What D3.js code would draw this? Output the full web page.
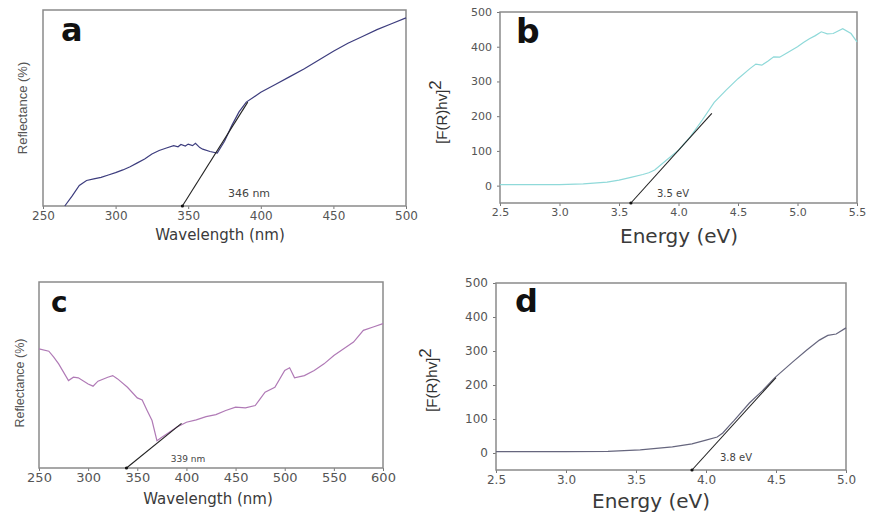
<!DOCTYPE html>
<html>
<head>
<meta charset="utf-8">
<script src="https://cdn.jsdelivr.net/npm/d3@7"></script>
<style>
  body { margin: 0; background: #fff; }
  svg { display: block; }
  .tick text { font-family: "DejaVu Sans", sans-serif; fill: #555; }
  .tick line { stroke: #777; }
</style>
</head>
<body>
<div id="chart"></div>
<script>
// Data: panel a (reflectance vs wavelength)
const wavelengthA = [265, 270, 275, 280, 285, 290, 295, 300, 305, 310, 315, 320, 325, 330, 335, 340, 343, 345, 348, 350, 353, 355, 358, 360, 365, 370, 375, 380, 385, 390, 395, 400, 410, 420, 430, 440, 450, 460, 470, 480, 490, 500];
const reflectanceA = [0, 5, 10.5, 13, 13.8, 14.6, 15.8, 17, 18.4, 20, 22, 24, 26.5, 28.3, 29.6, 30.8, 30.2, 31.4, 30.6, 31.6, 30.8, 32, 29.8, 29, 27.8, 27, 33, 41, 48, 53, 55.5, 58, 62, 66, 70, 74.5, 79, 83, 86.5, 90, 93, 96];
const tangentAx = [346, 391];
const tangentAy = [0, 53];

// panel b ([F(R)hv]^2 vs energy)
const energyB = [2.5, 2.8, 3.0, 3.2, 3.4, 3.5, 3.6, 3.7, 3.75, 3.8, 3.9, 4.0, 4.1, 4.2, 4.3, 4.4, 4.5, 4.6, 4.65, 4.7, 4.75, 4.8, 4.85, 4.9, 4.95, 5.0, 5.05, 5.1, 5.15, 5.2, 5.25, 5.3, 5.38, 5.45, 5.5];
const fB = [3, 3, 3, 5, 10, 16, 24, 32, 37, 45, 74, 102, 141, 189, 240, 275, 308, 337, 350, 347, 358, 371, 370, 380, 390, 400, 412, 423, 432, 443, 437, 438, 452, 438, 414];
const tangentBx = [3.6, 4.28];
const tangentBy = [-50, 208];

// panel c (reflectance vs wavelength)
const wavelengthC = [250, 260, 265, 270, 280, 285, 290, 300, 305, 310, 320, 325, 330, 340, 350, 355, 360, 365, 370, 375, 380, 390, 400, 410, 420, 430, 440, 450, 460, 470, 475, 480, 490, 500, 505, 510, 520, 530, 540, 550, 560, 570, 580, 590, 600];
const reflectanceC = [64, 62.8, 59.6, 56, 47, 48.8, 48.5, 45.2, 44, 46.7, 48.8, 49.7, 47.9, 43.4, 37.7, 36.6, 30.9, 25.5, 14.7, 16.5, 18.3, 21.9, 24.6, 25.9, 27.6, 28.7, 30.9, 32.7, 32.3, 33.6, 37.2, 40.8, 43.4, 52.4, 53.9, 48.5, 49.7, 52.4, 56, 60.5, 64.1, 67.7, 74, 75.8, 77.6];
const tangentCx = [339, 395];
const tangentCy = [0, 24];

// panel d ([F(R)hv]^2 vs energy)
const energyD = [2.5, 3.0, 3.3, 3.53, 3.76, 3.9, 4.0, 4.08, 4.12, 4.17, 4.2, 4.31, 4.4, 4.49, 4.62, 4.72, 4.81, 4.87, 4.93, 5.0];
const fD = [4, 4, 5, 9, 18, 27, 38, 47, 59, 82, 95, 147, 182, 221, 268, 303, 332, 346, 350, 368];
const tangentDx = [3.9, 4.5];
const tangentDy = [-50, 222];

// Tick values
const ticksWaveA = [250, 300, 350, 400, 450, 500];
const ticksWaveC = [250, 300, 350, 400, 450, 500, 550, 600];
const ticksEnergyB = [2.5, 3.0, 3.5, 4.0, 4.5, 5.0, 5.5];
const ticksEnergyD = [2.5, 3.0, 3.5, 4.0, 4.5, 5.0];
const ticksF = [0, 100, 200, 300, 400, 500];

const svg = d3.select("#chart").append("svg")
    .attr("width", 870)
    .attr("height", 515);

function drawPanel(p) {
    const x = d3.scaleLinear().domain(p.xDomain).range([p.left, p.right]);
    const y = d3.scaleLinear().domain(p.yDomain).range([p.bottom, p.top]);
    const g = svg.append("g");

    // x axis
    const xa = g.append("g")
        .attr("transform", `translate(0,${p.bottom})`)
        .call(d3.axisBottom(x).tickValues(p.xTicks).tickSize(3).tickPadding(2).tickFormat(p.xFormat));
    xa.select(".domain").remove();
    xa.selectAll("text").style("font-size", p.tickSize + "px");

    // y axis (only for the F(R) panels)
    if (p.yTicks) {
        const ya = g.append("g")
            .attr("transform", `translate(${p.left},0)`)
            .call(d3.axisLeft(y).tickValues(p.yTicks).tickSize(3).tickPadding(5).tickFormat(d3.format("d")));
        ya.select(".domain").remove();
        ya.selectAll("text").style("font-size", p.tickSize + "px");
    }

    // frame
    g.append("rect")
        .attr("x", p.left).attr("y", p.top)
        .attr("width", p.right - p.left).attr("height", p.bottom - p.top)
        .attr("fill", "none").attr("stroke", "#8a8a8a").attr("stroke-width", 1.5);

    // spectrum
    const line = d3.line().x(d => x(d[0])).y(d => y(d[1]));
    g.append("path")
        .datum(p.xs.map((v, i) => [v, p.ys[i]]))
        .attr("d", line)
        .attr("fill", "none")
        .attr("stroke", p.color)
        .attr("stroke-width", 1.2);

    // tangent
    const tan = p.tx.map((v, i) => [v, p.ty[i]]);
    g.append("path")
        .datum(tan)
        .attr("d", line)
        .attr("fill", "none")
        .attr("stroke", "#222")
        .attr("stroke-width", 1.1);
    g.append("circle")
        .attr("cx", x(tan[0][0])).attr("cy", y(tan[0][1]))
        .attr("r", 1.6).attr("fill", "#111");

    // annotation
    g.append("text")
        .attr("x", p.noteX).attr("y", p.noteY)
        .attr("text-anchor", "middle")
        .style("font-family", "DejaVu Sans, sans-serif")
        .style("font-size", p.noteSize + "px")
        .style("fill", "#444")
        .text(p.note);

    // panel letter
    g.append("text")
        .attr("x", p.letterX).attr("y", p.letterY)
        .style("font-family", "DejaVu Sans, sans-serif")
        .style("font-weight", "bold")
        .style("font-size", p.letterSize + "px")
        .style("fill", "#111")
        .text(p.letter);

    // x label
    g.append("text")
        .attr("x", p.xLabelX).attr("y", p.xLabelY)
        .attr("text-anchor", "middle")
        .style("font-family", "DejaVu Sans, sans-serif")
        .style("font-size", p.xLabelSize + "px")
        .style("fill", "#3a3a3a")
        .text(p.xLabel);

    // y label
    const yl = g.append("text")
        .attr("transform", `translate(${p.yLabelX},${p.yLabelY}) rotate(-90)`)
        .attr("text-anchor", "middle")
        .style("font-family", "Liberation Sans, Arial, sans-serif")
        .style("font-size", p.yLabelSize + "px")
        .style("fill", p.yTicks ? "#333" : "#555");
    if (p.yTicks) {
        yl.append("tspan").text("[F(R)hv]");
        yl.append("tspan").attr("dy", -6).style("font-size", (p.yLabelSize + 2) + "px").text("2");
    } else {
        yl.text("Reflectance (%)");
    }
}

drawPanel({
    xs: wavelengthA, ys: reflectanceA, tx: tangentAx, ty: tangentAy,
    xDomain: [250, 500], yDomain: [0, 100],
    left: 43, right: 406, top: 10, bottom: 206,
    xTicks: ticksWaveA, xFormat: d3.format("d"), tickSize: 12,
    color: "#3d3d7e",
    note: "346 nm", noteX: 249, noteY: 197, noteSize: 11,
    letter: "a", letterX: 61, letterY: 41, letterSize: 32,
    xLabel: "Wavelength (nm)", xLabelX: 220, xLabelY: 240, xLabelSize: 15,
    yLabelX: 27, yLabelY: 108, yLabelSize: 13
});

drawPanel({
    xs: energyB, ys: fB, tx: tangentBx, ty: tangentBy,
    xDomain: [2.5, 5.5], yDomain: [-50, 500],
    left: 500, right: 857, top: 12, bottom: 203,
    xTicks: ticksEnergyB, xFormat: d3.format(".1f"), yTicks: ticksF, tickSize: 11,
    color: "#8fd9d9",
    note: "3.5 eV", noteX: 673, noteY: 197, noteSize: 10,
    letter: "b", letterX: 516, letterY: 43, letterSize: 33,
    xLabel: "Energy (eV)", xLabelX: 679, xLabelY: 243, xLabelSize: 20,
    yLabelX: 447, yLabelY: 112, yLabelSize: 15
});

drawPanel({
    xs: wavelengthC, ys: reflectanceC, tx: tangentCx, ty: tangentCy,
    xDomain: [250, 600], yDomain: [0, 100],
    left: 39, right: 383, top: 282, bottom: 468,
    xTicks: ticksWaveC, xFormat: d3.format("d"), tickSize: 13,
    color: "#b07ab6",
    note: "339 nm", noteX: 188, noteY: 462, noteSize: 9,
    letter: "c", letterX: 51, letterY: 312, letterSize: 28,
    xLabel: "Wavelength (nm)", xLabelX: 208, xLabelY: 504, xLabelSize: 15,
    yLabelX: 24, yLabelY: 383, yLabelSize: 12.5
});

drawPanel({
    xs: energyD, ys: fD, tx: tangentDx, ty: tangentDy,
    xDomain: [2.5, 5.0], yDomain: [-50, 500],
    left: 496, right: 846, top: 283, bottom: 470,
    xTicks: ticksEnergyD, xFormat: d3.format(".1f"), yTicks: ticksF, tickSize: 12,
    color: "#66667e",
    note: "3.8 eV", noteX: 736, noteY: 461, noteSize: 10,
    letter: "d", letterX: 515, letterY: 312, letterSize: 32,
    xLabel: "Energy (eV)", xLabelX: 651, xLabelY: 508, xLabelSize: 20,
    yLabelX: 437, yLabelY: 380, yLabelSize: 15
});
</script>
</body>
</html>
